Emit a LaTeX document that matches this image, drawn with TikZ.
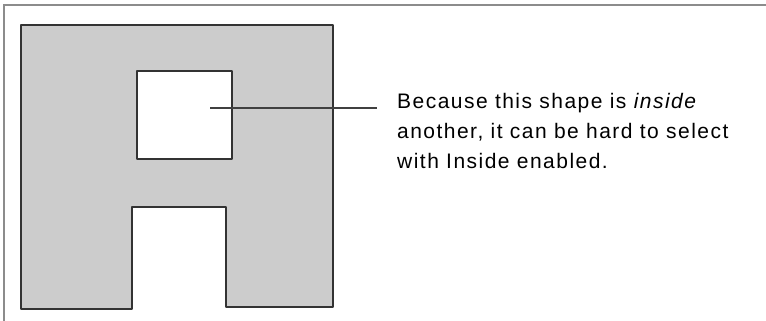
\documentclass[tikz,border=0pt]{standalone}
\usepackage{fontspec}
\setmainfont{Liberation Sans}[LetterSpace=7]

\begin{document}
\begin{tikzpicture}[
x=1pt,y=-1pt,
every node/.style={inner sep=0pt},
frame/.style={draw=black!45,line width=1.5pt},
outline/.style={draw=black!80,line width=1.4pt,line join=round},
hole/.style={outline,fill=white,minimum width=95pt,minimum height=88pt},
note/.style={align=left,anchor=north west,font=\fontsize{21}{30}\selectfont},
leader/.style={draw=black!75,line width=1.2pt}
]
\useasboundingbox (0,0) rectangle (766,321);

% window frame
\draw[frame] (4,321) -- (4,5) -- (766,5);

% outer shape with notch
\filldraw[outline,fill=black!20] (21,25) -- (333,25) -- (333,307) -- (226,307)
  -- (226,207) -- (132,207) -- (132,309) -- (21,309) -- cycle;

\node[hole] (inner) at (184.5,115) {};
\coordinate (tip) at (210,108);

\node[note] (text) at (397,93) {Because this shape is \textit{inside}\\another, it can be hard to select\\with Inside enabled.};

\draw[leader] (tip) -- ([xshift=-20pt]text.west |- tip);

\end{tikzpicture}
\end{document}
